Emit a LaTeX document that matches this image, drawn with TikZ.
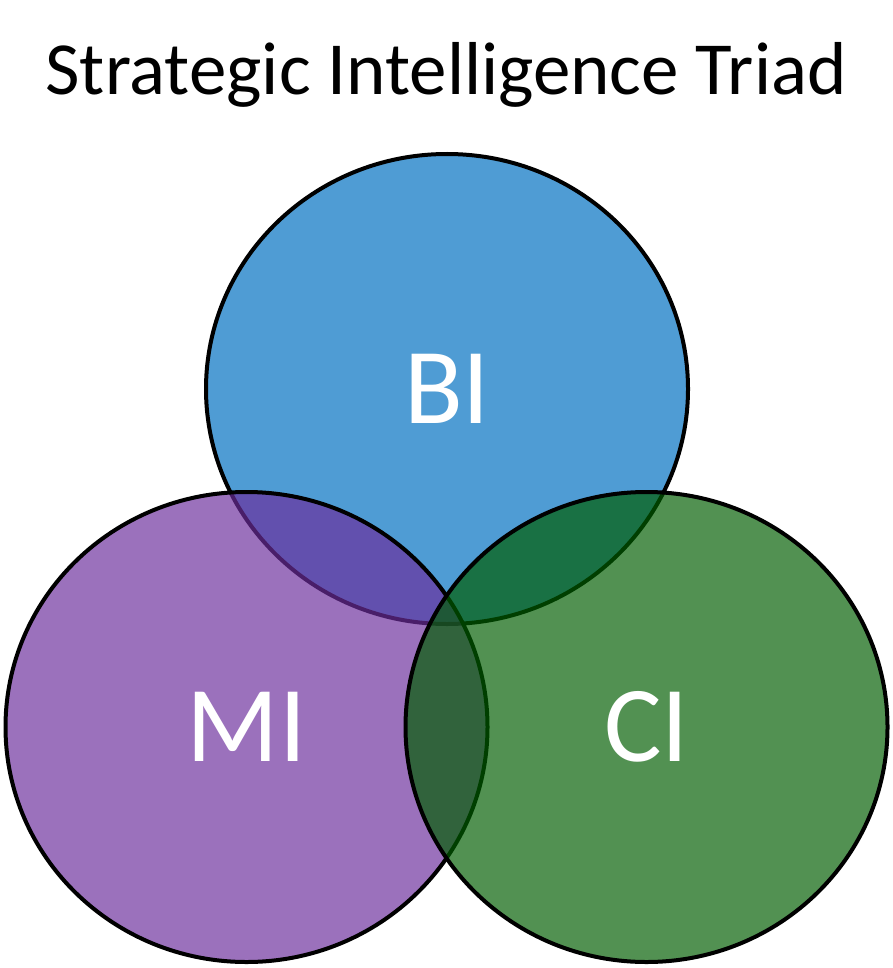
\documentclass[tikz,border=0pt]{standalone}
\usepackage{fontspec}
\setmainfont{Carlito}
\usetikzlibrary{shapes.geometric}

\definecolor{biblue}{RGB}{79,156,212}
\definecolor{mipurple}{RGB}{108,45,156}
\definecolor{cigreen}{RGB}{0,93,0}

\begin{document}
\begin{tikzpicture}[
    x=1pt, y=-1pt,
    intel/.style={ellipse, draw=black, line width=4pt, minimum width=482pt, minimum height=470pt, inner sep=0pt, text=white, text opacity=1, font=\fontsize{108}{122}\selectfont},
    heading/.style={font=\fontsize{75}{90}\selectfont, anchor=base}
]
\useasboundingbox (0,0) rectangle (892,968);

% Title
\node[heading] (title) at (446,95) {Strategic Intelligence Triad};

% Circles: BI first, then MI and CI on top (see-through)
\node[intel, fill=biblue] (bi) at (447,389) {BI};
\node[intel, fill=mipurple, fill opacity=0.68] (mi) at (246.5,727) {MI};
\node[intel, fill=cigreen, fill opacity=0.68] (ci) at (646.5,727) {CI};

\end{tikzpicture}
\end{document}
